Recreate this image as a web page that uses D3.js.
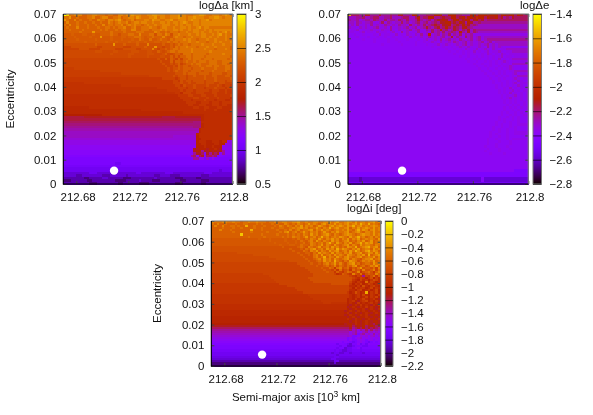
<!DOCTYPE html>
<html><head><meta charset="utf-8">
<script src="https://cdn.jsdelivr.net/npm/d3@7"></script>
<style>html,body{margin:0;padding:0;background:#fff}svg{display:block;filter:blur(0.35px)}text{font-family:"Liberation Sans",Arial,sans-serif;font-size:11.5px;fill:#111}</style>
</head><body><svg id="c" width="593" height="415"></svg>
<script>
const xTicks=[212.68,212.72,212.76,212.8];
const yTicks=[0,0.01,0.02,0.03,0.04,0.05,0.06,0.07];
const aTicks=[0.5,1,1.5,2,2.5,3];
const eTicks=[-2.8,-2.6,-2.4,-2.2,-2,-1.8,-1.6,-1.4];
const iTicks=[-2.2,-2,-1.8,-1.6,-1.4,-1.2,-1,-0.8,-0.6,-0.4,-0.2,0];
const satellite={a:212.709,e:0.0055};
// Rows top (e=0.069) to bottom (e=0). Letter a..z = level 0..25 of the colour range, capital = half a level higher, number = run length.
const deltaARows=[
"z1x1t2u3s2t2u2t3s1t2s2u2t1u2v1u3t2u2v2u3t2u3v1u2t3u2v2u1t2u3tuvut",
"t2v1s2t1s3t2u1s2t1u2s2t2u1s1t2u2t1v1u1t3u2v1t1u2t2u3v1u2t1u2v1u3t2u2v2u1t1u2",
"v1t1s2u1s1t1s3t1s2u1t2s1u2t1u1v1t1s1t2u1s1t3u2t1v1u2t2u2v1t2u3t1u1v1u2t1u2v1t1u2",
"s1u1s3t1s2t1s2t1s2t1s2u1t1s1t1u1t2u1s1t1u2t1u2t2u1t2u2t1u1t1u2t1u1v1u1t2u2t1u3",
"t1s1u1s2t1s3t1s2t1s2u1s1t2s1t2u1s1t1u1t1u1t2s1t1u1t2u1t2u3t2u1t1u1t1u2t1u2t1u1",
"s1t1s3u1s3t1s3t1s2t2s1t1s1t2u1s2t1u1s2t1t2u1t2s1t1u2t2u1t2u2t1u1t2u1v1t1u2t1",
"s2t1s2s2t1s3s3t1s1t1s2s1t1s1t2s2u2s2t2t1s1t1t2u1t1u1t2u2t1u1t2u1t1u2t2u1tutu",
"s6t1s4v1s6t1s4t1s4t3s4u1t1s2t1s1t3s1t2u1t2u2t1u1t2u1t2utuvtutu",
"R3s1R3s2R2s1R2s2s2t1s2r1s2s1t2s2u1s2s1t2r1t2s1u1t1r1t2u1t3u1t2u1t1u2t1tutuvtuttu",
"R4s1R5s1R3v1R3s1R3s2R1s2t3s1R1s2t1s3u1s1R2t1u1t2s1t2u1t3u2t1u1t2u1t2u1tut",
"R5s1R6s1R5s1R3s1R3s1R2t1s1R2t1R2s1t1s2R1t1s1t3u1t1u1t2s1t3u1t2u1t3u1t2tut",
"R8s1R7s1R3s1R4s1R2s1R2s1R3s2R1s2t1s1t2s1t3u1t2u1t3s1t2u1t1u1t3u1tutu",
"r12s1r6v1r3s1r4s1r3u1r3r2s1r2s1r1s1t1s1t2s1t4u1t3u1t3u1t3tutsut",
"q3r10q2r8q3r5s1r3v1r2q1r2s1r1t1s1t2u1t3s1t3u1t2u1t5sutut",
"q6r4q4r6q3r5q2r4u1r1q1r2s1r1s1t2s1t4u1t4u1t3s1t3u1tstu",
"Q12r3Q4r2Q5r3Q3r2Q2s1r1Q1r1s1t2s1t5u1t6u1t5t3tstu",
"Q18r1Q6r2Q5r3Q3r1s1Q2r1s2r1t3s1t5s1t5u1t4s1t3tstu",
"Q25r1Q6r1Q4r2Q2s1Q1s1Q1s2t2s1t4s1t5t4s1t3s1t2tstu",
"q36r1q2s1q1s1r1q1s1q1s2t1s1t3s1t3s1t5s1t4stts",
"q37r1q3s1q1s2r1s1t1s2t1s1t3s1t3s2t4s1t1s1",
"q38r1q2r1q1r1s1q1r1s2t1s1t2s3t3s2t2s1t2s1stst",
"q39r1q2r1q1s1r1s2r1s3t1s2t2s1t2s2t2s1t1s2",
"P4q36r1q1r2s1r1s3r1s3t1s4t1s3t2s3t1s1",
"P14q26r1q1r1s1r2s2r1s4r1s3t1s4t1s3s3",
"P22q19q2r3s1r1s3r1s4r1s4r2s5r1s3",
"P33q9r1q1r3q1r2s1r3s1r2s2r3s2r4s1r2",
"p38q5p1q1r2q1r6s1r3s1r5s1r3q1r3s1r2",
"p42q2p1r1q1r2q1r4q1r3s1r3q1r4q1r3q1r2",
"O8p34q3r1q2r1q2r3q1r3q2r2q3r3q2r2q1r2",
"O22p21q2p1r1q3r1q4r1q3r1q1p1q2p2q3r1q3",
"O36p8q3p1q2r1q3p1q3r1q3p1q3p2q3p2q3",
"O40p5q1p1q3p1q5p1q3p2q1p3q2p3q1p2q2",
"O43p2o1q3p2q3p3q2p3q1p4q1p2q1p3q2p1",
"o44p4q2p3q2p3q1p5q1p3q2p3q1p2o1p2",
"o45p5q2p3q1p3q1p4o1p3o1p3q1p3o1p2",
"o46p3o1p4q1p3o1p3o2p4o2p3o1p1o2p2",
"o47p4o2p3o1p3o1p4o2p3o2p3o2p2o2",
"o48p2o2p3o2p3o1p2o3p3o3p2o3p2",
"N10o40p2o2p2o3p2o5p2o3p2o4p2o3",
"N30o24p1o3p1o5p1o4p1o3p1o4",
"N46o20",
"M15N39o11",
"L8m30L5m10N1o11",
"L53N1o11",
"l50K3o12",
"K53N1o11",
"k50K3N1o11",
"J52N1o12",
"j52N1o12",
"j51N1o13",
"j42I9n1o13",
"I51n2o12",
"i51n1o3n2o3n1o2i1",
"i51n2o2n3o2n2i3",
"H51n3o1n2o1n3H4",
"H50m2n3m1n2o1n1m1H4",
"h50m1n2k1m2n1m1n1m2k1h3",
"h50k1m2l1h1m1k1m1l1m1h1k1h1",
"G49k1l1h1l1m1h1l2k1l1g1h1G4",
"g50k2h1i1g1j1g1i1g7",
"g65",
"g20f2g43",
"F65",
"f65",
"f60e1f4",
"e10f3e15f2e9f3e12f3e8",
"e5d2e8d3e6d1e10d2e4d4e8d3e9",
"d8c2d5e2d6c3d9e1d7c3d5c2d12",
"c3d6c2d9c4d5e1d4c3d8c2d6c3d9",
"d10c3d8c2d6c4d10c3d7c2d10"
];
const deltaERows=[
"w1l3k2m2k3m1k3l1k2m2k3n2k3l3n3k2n3l2k3n2l1n3m1n3l1n2m1n2l1n1m1l1",
"j3k2l1j2k1l2j2k2l1j3k1l2j2l1n1k1l2n2k2l1m1l2n2l1m1n1l1n2m1o1n2l1n1m2n1l1m1k1lkml",
"k1j2k1i1j1k2j1l1k1j2l1j1k2j1l1k1j1l1j2k1m1k1j1k1l1j1l1m2n1m1k1l1n2l1m1n2k1m1n1l1m1k1l1",
"j2i1k1j1i1j2k1i2j1l1i1k1j1i1j2l1j1k1i1j1k1l1j1k1l1j1k1l1k1m2n2l1m1l1n1m1k1n1m1k2l1k1",
"i1j1H1k1i2j1i1k1i1j1i2k1j1i1j1i1k1j2i1l1j1i1k1j1l1j1k1l1m1l1k1m2n1k1l1m1l1n1l1m1k1l1k1j1",
"j1i2H1j1i1j1i2j1k1i2j1H1k1i2j1i1j1k1i1j1k1i1j1k1m1k1j1l1m1k1l1n1l1k1m1l1k1m1n1l1k1j1",
"H1i2j1H1i3j1i2H1j1i2k1i1H1j1i2j1k1i1j1k1i2k1j1l1j1k1n1k1l1j1k1m1l1j1l1k1m1j1l1k1",
"i2H2i1j1H1i2H1j1i3H1i1j1H2k1i1j1H1i2k1i2j1i1l1j1k1j1l1j1k1l1k1j1n1k1j1m1j1l1k1j1",
"H2i1H2i1H3i1H1j1H1i2H2j1H1i1H1j1i1H1j1i1k1i1j1n1i1j1k1i1k1j1l1i1k1j1l1i1k1j1k1i1",
"H3i1H3i1H2i1H2i1H2i1H3i1H1j1i1H1i1j1H1i1k1i1j1i1j1k1i1j1m1i1k1j1i1l1j1k1i1jkij",
"H5i1H3i1H4i1H2i1H3i1H3i1H1i1j1H1i1j1i1k1i1j1k1i1j1i1k1j1i1j1k1i1jkijk",
"H9i1H4i1H3i1H5i1H2i1H1i1j1i1H1j1i2j1i1k1j1i1j1k1i1j1i2jkijkij",
"H12i1H6i1H4i1H3i1H2i1j1H1i1j1i1H1i1j1i1j1k1i1j1i2j1i1jkijij",
"H30i1H3i1H2i1H1i1j1i1H1j1i1H1i1j1i1H1k1i1j1i1j1i1H1",
"H32i1H2i1H2i1H1i1H1j1i1H1i1j1H1i1j1i1H1j1i1H1i1ij",
"H36i1H2i1H1i1H1i1H1j1H1i1H1i1j1H1i2j1i1H1i1ij",
"H38i1H2i1H1i1H1i1H2i1H1j1i1H1i1H1j1i1H1i1",
"H40i1H2i1H2i1H1i1H1i1H1i1H1i1j1H1i2Hi",
"H42i1H2i1H1i1H2i1H1i1H1j1H1i1H1i1j1",
"H43i1H2i1H2i1H1i1H1i1H1i1j1i1H1i1",
"H45i1H2i1H2i1H1i1H1i1H1i1H1j1",
"H46i1H2i1H1i1H2i1H1i2j1i1H1",
"H47i1H2i1H2i1H1i1H1i1j1i1H1",
"H48i1H2i1H2i1H1i1H1i2j1",
"H49i1H2i1H1i1H1i1H2i1j1H1i1",
"H50i1H2i1H1i1H1i1H1i1H1j1",
"H51i1H2i1H1i1H2i1j1i1H1i1",
"H52i1H1i1H2i1H1i1H1j1i1H1",
"H52i1H2i1H1i1H1i1j1H1i1",
"H53i1H1i1H1i1H1i1H1j1i1H1",
"H53i1H2i1H1j1H1i1H1i1H1i1",
"H54i1H1i1H1i1j1H1i1H1i1",
"H54i1H1i1H1j1H1i1H1i1H1i1",
"H55i1H1i1H1i1j1H1i1H1i1",
"H55i1H1i1j1H1i1H1i1H1i1",
"H56i1H1i1H1i1H1i1H1i1H1",
"H56i1H1i1H1i1H2i1H1i1",
"H57i1H1i1H1i1H1i1H1",
"H56i1H1i1H1i1H1i1H1i1",
"H56i1H2i1H1i1H2i1",
"H55i1H1i1H2i1H1i1H1",
"H55i1H2i1H1i1H2i1",
"H54i1H2i1H1i1H1i1H2",
"H54i1H1i1H2i1H1i1H1",
"H53i1H2i1H1i1H2i1H1",
"H53i1H1i1H2i1H2i1",
"H52i1H2i1H2i1H1i1H1",
"H52i1H1i1H2i1H2i1H1",
"H51i1H2i1H2i1H2i1",
"H51i1H1i1H3i1H2i1",
"H51i1H2i1H2i1H2",
"H50i1H2i1H3i1H1i1",
"H50i1H3i1H3i1H2",
"H50i1H2i1H4i1H2",
"H49i1H3i1H3i1H4",
"H50i1H3i1H3i1H3",
"H49i1H4i1H6",
"H51i1H4i1H4",
"H65","H65","H65","H65","H65","H65",
"H60g5",
"g65",
"g65",
"e4d1e43h1e16",
"e4d1e43h1e16",
"f65"
];
const deltaIRows=[
"utttuuttut tsttuttutt tsttuttuut tuuvttuttu uttuuvtuvt tuvutvtuut uuvtu",
"tsusstssst ssttssstst ssststssut stsutstvtu tsuvtutvtu tuvtuvtwut wtuts",
"sussusstts tsswsstsss tssstsutsu tsutvsutus tvutsuvtuv utvuwtuvtu tuvut",
"sssstsssts stsssstsst ssstssttss tutuvtustt vtsutwtuvt tuvsutvtuv utvtu",
"sssussstss ssssswssst ssssstssts ustusttuvs utvtutstut utvtsuwtvu suvtu",
"ssssssssts ssssstssss stsssstsuv stustvtsut ustvtsutvt tuvstuvtsu utvtt",
"ssssssssss sxssssssst ssssstssst ststsutsvt ustuvtsuts tuvutstuvu utvtu",
"ssssssssss sssstsssss tsssssstst suttstvstu stwtustutv utsvtuwtus tusut",
"RRRRRRRRRR RRRRRRRRsR RRsRRRRRsR RsRtsRtsut svtsutvtus utvsutvstu tutsv",
"RRRRRRRRRR RRRRRRRRRR RRsRRRRRsR RRsRtsRtus vtsutsvtus tuvstsutvs tvstu",
"RRRRRRRRRR RRRRRRRRRR RRRRsRRRRs RRsRstRsut stusuwtsvt sutvstuwtv uvstu",
"RRRRRRRRRR RRRRRRRRRR RRRRRRsRRR ssRRtssRut stvsutsvts tuvsutsvtu utsut",
"rrrrrrrrrr rrrrrrrrrr rrrrrrrsrr rrrstsruts tvstusvtus tsvutwstuv wtuvs",
"rrrrrrrrrr rrrrrrrrrr rrrrrrrrrr srrrsrtsuv stusvtuswt vutsutvstu usvtu",
"rrrrrrrrrr rrrrrrrrrr rrrrrrrrrr rsrrrtsrut vsutsvtuvs tusvtwustv wtvus",
"QQQQQQQQQQ rrrrrrrrrr rrrrrrrrrr rrrsrrssrt svtutsvsut sutvstuvst vusvt",
"QQQQQQQQQQ QQQQQQrrrr rrrrrrrrrr rrrrsrrsrt usvstusvtu tsvutsutvs wstuv",
"QQQQQQQQQQ QQQQQQQQQQ QQrrrrrrrr rrrrrsrrrt ustwsutsvt suvtstuvst utvsu",
"QQQQQQQQQQ QQQQQQQQQQ QQQQQrrrrr rrrrrrsrrs tusvtusvts tuvsutsrtu uvstu",
"QQQQQQQQQQ QQQQQQQQQQ QQQQQQQQQQ rrrrrrrsrr stsvtuswts rtsvutrsut utvst",
"q30 qqqrrrrrsr rsrtustvsu srtuvstrst tsvtu",
"q30 qqqqrrrrrr srrstrsurt srtsuvrstr sutvs",
"q30 qqqqqqrrrr rrsrrtsptu rstqsrtvrs srtqu",
"q30 qqqqqqqrrr rrrsrrqspt qrsptrsqur rsuqt",
"q30 qqqqqqqqrr rrrrsrrpsq prtsqruprs trpsu",
"P20 qqqqqqqqqq qqqqqqqqqr rrrrrrrqop srqpurqtpr srqus",
"P20 PPqqqqqqqq qqqqqqqqqr rrrrrrrrrr rrrqpoqpkq prtps",
"P20 PPPqqqqqqq qqqqqqqrrr rrrrrrrrrr rrrrqpoqpn prnqo",
"P20 PPPPqqqqqq qqqqqqqqrr rrrrrrrrrr rrrrponqop nprqo",
"P20 PPPPPqqqqq qqqqqqqqqr rrrrrrrrrr rrrqonpont oqpno",
"p20 ppppppqqqq qqqqqqqqqq qqqqqqrrrr rrrpnpoqno qpnop",
"p20 pppppppppq qqqqqqqqqq qqqqqqqqqq qqqoonpnro npqon",
"p20 pppppppppp ppqqqqqqqq qqqqqqqqqq qqqpnqoppn oqnpo",
"p30 pppqqqqqqq qqqqqqqqqq qqqoonpqno pnoqn",
"p30 pppppqqqqq qqqqqqqqqq qqpnorpnow npoqn",
"O30 OOOOOOOppp pppppppppp ppponopnqo nponp",
"O30 OOOOOOOOpp pppppppppp ppponopnoq npoqn",
"O30 OOOOOOOOOp pppppppppp ppnonpnoqo nopnm",
"O40 OOpppppppp ppnopnmopq nonpn",
"O40 OOOpppOOOO OOnonmpnon opnom",
"o50 oonmnonpno nmonp",
"o50 oomnonmonp nonmn",
"o50 oonmnonnom nonmo",
"N50 Nmnonmonon mnonm",
"N50 Nnomnonmno nmnon",
"N50 Nmnonmnono mnnmn",
"n50 nnmnonmnno nmnnm",
"n50 nnonmonnmn onnmo",
"n50 nnnmnonmno nmnnm",
"M50 Mmnnmonmno nmlnm",
"m50 mmmnlmnmnl mnmlm",
"l50 lllmklmlnl mlmlk",
"k50 kkkljkikjl jljkj",
"J50 JJJijkihjk ijiji",
"j50 jjjijkgjki jikij",
"I50 IIjIgghIiI hIjhI",
"i50 iighghijhi hihih",
"H50 HHgHggHiHg HiGHh",
"h50 ghhgfghihg fghgh",
"G40 GGGGGGGGfG GgfeggHfGf hGGGG",
"g40 gggggggggf ggeefgggff ggggg",
"g40 ggggggggfg geffgghfgg ggggg",
"F40 FFFFFFFfFf eeffFFFfFF FFFFF",
"f40 ffffffeffe effeffffef fffff",
"f48e1f16",
"E47f2E16",
"e46f2e17",
"d47f2d16",
"c47e1c17",
"c65"
];
const palette=t=>d3.rgb(255*Math.sqrt(t),255*t*t*t,255*Math.max(0,Math.sin(2*Math.PI*t))).toString();
const xDomain=[212.67,212.80], yDomain=[0,0.07], cellA=0.002, cellE=0.001, cols=65;
const level=c=>{const u=c>='A'&&c<='Z';return ((u?c.charCodeAt(0)-65+0.5:c.charCodeAt(0)-97))/25;};
const decode=s=>{const o=[];for(const m of s.matchAll(/([a-zA-Z])(\d*)/g)){const n=m[2]?+m[2]:1;for(let i=0;i<n;i++)o.push(level(m[1]));}
  while(o.length<cols)o.push(o[o.length-1]);return o.slice(0,cols);};
const svg=d3.select('#c');
function panel({x0,x1,y0,y1,cx0,cx1,rows,range,cbTicks,title,titleX,titleY,ylab,ylabX}){
  const g=svg.append('g');
  const x=d3.scaleLinear(xDomain,[x0,x1]), y=d3.scaleLinear(yDomain,[y1,y0]);
  const color=d3.scaleSequential(range,palette);
  const cb=d3.scaleLinear(range,[y1,y0]);
  const cells=rows.flatMap((s,r)=>decode(s).map((t,c)=>({a:xDomain[0]+c*cellA,e:0.069-r*cellE,v:range[0]+t*(range[1]-range[0])})));
  g.append('g').attr('shape-rendering','crispEdges').selectAll('rect').data(cells).join('rect')
    .attr('x',d=>x(d.a)).attr('y',d=>y(d.e+cellE))
    .attr('width',d=>x(d.a+cellA)-x(d.a)+0.6).attr('height',d=>y(d.e)-y(d.e+cellE)+0.6)
    .attr('fill',d=>color(d.v));
  g.append('circle').attr('cx',x(satellite.a)).attr('cy',y(satellite.e)).attr('r',4.2).attr('fill','#fff');
  const style=(s,txt)=>{s.select('.domain').remove();s.selectAll('line').attr('stroke','#444');if(!txt)s.selectAll('text').remove();};
  g.append('g').attr('transform',`translate(0,${y1})`).call(d3.axisBottom(x).tickValues(xTicks).tickFormat(d3.format('')).tickSizeInner(-3).tickPadding(9)).call(s=>style(s,true))
    .selectAll('text').attr('dx',1.3).attr('fill','#111');
  g.append('g').attr('transform',`translate(0,${y0})`).call(d3.axisTop(x).tickValues(xTicks).tickSizeInner(-3)).call(s=>style(s,false));
  g.append('g').attr('transform',`translate(${x0},0)`).call(d3.axisLeft(y).tickValues(yTicks).tickFormat(d3.format('')).tickSizeInner(-3).tickPadding(7)).call(s=>style(s,true))
    .selectAll('text').attr('fill','#111');
  g.append('g').attr('transform',`translate(${x1},0)`).call(d3.axisRight(y).tickValues(yTicks).tickSizeInner(-3)).call(s=>style(s,false));
  g.append('path').attr('d',`M${x0},${y0}H${x1}V${y1}`).attr('fill','none').attr('stroke','#777').attr('stroke-width',1.2);
  g.append('path').attr('d',`M${x0},${y0}V${y1}H${x1}`).attr('fill','none').attr('stroke','#000').attr('stroke-width',1.1);
  const n=Math.round(y1-y0);
  g.append('g').attr('shape-rendering','crispEdges').selectAll('rect').data(d3.range(n)).join('rect')
    .attr('x',cx0).attr('width',cx1-cx0).attr('y',i=>y0+i).attr('height',1.2)
    .attr('fill',i=>palette(1-(i+0.5)/n));
  g.append('rect').attr('x',cx0).attr('y',y0).attr('width',cx1-cx0).attr('height',y1-y0).attr('fill','none').attr('stroke','#777');
  const ca=g.append('g').attr('transform',`translate(${cx0},0)`).call(d3.axisRight(cb).tickValues(cbTicks).tickFormat(d3.format('')).tickSizeInner(cx1-cx0).tickPadding(cx0<300?9:8));
  ca.select('.domain').remove();ca.selectAll('line').attr('stroke','#000').attr('stroke-opacity',0.6);ca.selectAll('text').attr('fill','#111');
  g.append('text').attr('x',titleX).attr('y',titleY).text(title);
  if(ylab) g.append('text').attr('transform',`translate(${ylabX},${(y0+y1)/2}) rotate(-90)`).attr('text-anchor','middle').text('Eccentricity');
}
panel({x0:63.3,x1:232.5,y0:14,y1:184,cx0:237,cx1:246,rows:deltaARows,range:[0.5,3],cbTicks:aTicks,title:'logΔa [km]',titleX:199,titleY:9,ylab:true,ylabX:14});
panel({x0:348,x1:528.3,y0:14,y1:184,cx0:533,cx1:541.5,rows:deltaERows,range:[-2.8,-1.4],cbTicks:eTicks,title:'logΔe',titleX:520,titleY:9,ylab:false});
panel({x0:211.3,x1:380.7,y0:221,y1:366,cx0:385.3,cx1:393,rows:deltaIRows,range:[-2.2,0],cbTicks:iTicks,title:'logΔi [deg]',titleX:347,titleY:212,ylab:true,ylabX:161});
const xl=svg.append('text').attr('x',296).attr('y',401).attr('text-anchor','middle');
xl.append('tspan').text('Semi-major axis [10');
xl.append('tspan').attr('dy',-4).attr('style','font-size:8.5px').text('3');
xl.append('tspan').attr('dy',4).text(' km]');
</script></body></html>
